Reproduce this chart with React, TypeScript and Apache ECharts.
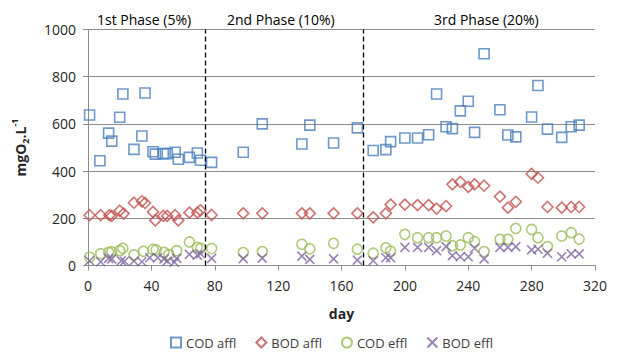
import React, { useEffect, useRef } from "react";
import * as echarts from "echarts";

const codAffl: number[][] = [[1,638],[7.5,444],[13,561],[15,527],[20,628],[22,727],[29,492],[34,549],[36,731],[41,482],[42.5,472],[47.5,474],[50,474],[55,480],[57,450],[64,458],[69,477],[71,446],[78,437],[98,480],[110,600],[135,515],[140,595],[155,519],[170,583],[180,487],[188,491],[191,525],[200,540],[208,540],[215,554],[220,727],[226,588],[230,580],[235,655],[240,696],[244,564],[250,897],[260,660],[265,553],[270,545],[280,629],[284,763],[290,578],[299,543],[305,588],[310,595]];
const bodAffl: number[][] = [[1,213],[8,213],[13.5,213],[15,210],[20,232],[22.5,220],[29,266],[34,272],[36,265],[41,227],[42.5,191],[47.5,210],[50,210],[55,213],[57,191],[64,224],[69,224],[71,234],[78,214],[98,221],[110,221],[135,221],[140,221],[155,221],[170,221],[180,204],[188,221],[191,258],[200,258],[208,256],[215,256],[220,241],[226,252],[230,344],[235,354],[240,333],[244,344],[250,338],[260,292],[265,245],[270,270],[280,388],[284,372],[290,248],[299,245],[305,248],[310,248]];
const codEffl: number[][] = [[1,35],[8,50],[13,56],[15,58],[20,63],[22,73],[29,45],[35,60],[41,68],[43,66],[48,56],[51,46],[56,63],[64,100],[69,77],[71,73],[78,72],[98,55],[110,59],[135,90],[140,71],[155,94],[170,69],[180,52],[188,75],[191,61],[200,132],[208,118],[215,118],[220,118],[226,125],[230,84],[235,87],[240,118],[244,101],[250,59],[260,111],[265,111],[270,157],[280,153],[284,118],[290,80],[299,125],[305,139],[310,112]];
const bodEffl: number[][] = [[1,20],[8,16],[13,30],[15,28],[21,20],[23,18],[29,19],[34,16],[39,33],[44,33],[48,28],[50,19],[54.5,14],[56,30],[64,47],[69,44],[71,50],[78,30],[98,29],[110,31],[135,40],[140,26],[155,28],[170,23],[180,20],[188,33],[191,33],[200,77],[208,77],[215,77],[220,63],[226,80],[230,42],[235,37],[240,37],[244,73],[250,28],[260,77],[265,77],[270,80],[280,66],[284,69],[290,52],[299,37],[305,49],[310,49]];
const phaseBoundaries: number[] = [74, 174];
const phaseLabels: string[] = ["1st Phase (5%)", "2nd Phase (10%)", "3rd Phase (20%)"];
const seriesNames: string[] = ["COD affl", "BOD affl", "COD effl", "BOD effl"];

const FONT = "'Open Sans', sans-serif";
const TEXT = "#262626";
const GRID = "#8c8c8c";

export default function App() {
  const ref = useRef<HTMLDivElement>(null);
  useEffect(() => {
    document.body.style.margin = "0";
    const chart = echarts.init(ref.current!, undefined, { renderer: "svg" });
    const mk = (name: string, data: number[][], symbol: string, size: number, color: string, extra: any = {}) => ({
      name,
      type: "scatter",
      data,
      symbol,
      symbolSize: size,
      itemStyle: { color: "rgba(0,0,0,0)", borderColor: color, borderWidth: 1.6 },
      emphasis: { disabled: true },
      ...extra,
    });
    chart.setOption({
      animation: false,
      textStyle: { fontFamily: FONT },
      grid: { left: 88, right: 23, top: 29.5, bottom: 86.5 },
      xAxis: {
        type: "value",
        min: 0,
        max: 320,
        interval: 40,
        name: "day",
        nameLocation: "middle",
        nameGap: 41,
        nameTextStyle: { fontFamily: FONT, fontSize: 14, fontWeight: "bold", color: TEXT },
        axisLine: { show: true, lineStyle: { color: GRID, width: 1 } },
        axisTick: { show: true, length: 5, lineStyle: { color: GRID } },
        axisLabel: { fontFamily: FONT, fontSize: 14, color: TEXT, margin: 13, formatter: (v: number) => String(v) },
        splitLine: { show: false },
      },
      yAxis: {
        type: "value",
        min: 0,
        max: 1000,
        interval: 200,
        name: "{m|mgO}{s|2}{m|.L}{p|-1}",
        nameLocation: "middle",
        nameGap: 58,
        nameTextStyle: {
          fontFamily: FONT,
          fontWeight: "bold",
          color: TEXT,
          rich: {
            m: { fontFamily: FONT, fontSize: 14, fontWeight: "bold", color: TEXT, lineHeight: 20, verticalAlign: "middle" },
            s: { fontFamily: FONT, fontSize: 9, fontWeight: "bold", color: TEXT, lineHeight: 20, verticalAlign: "bottom" },
            p: { fontFamily: FONT, fontSize: 9, fontWeight: "bold", color: TEXT, lineHeight: 20, verticalAlign: "top" },
          },
        },
        axisLine: { show: true, lineStyle: { color: GRID, width: 1 } },
        axisTick: { show: true, length: 5, lineStyle: { color: GRID } },
        axisLabel: { fontFamily: FONT, fontSize: 14, color: TEXT, margin: 12, formatter: (v: number) => String(v) },
        splitLine: { show: true, lineStyle: { color: GRID, width: 1 } },
      },
      legend: {
        top: 335,
        left: 170,
        padding: 0,
        itemWidth: 10,
        itemHeight: 10,
        itemGap: 19,
        textStyle: { fontFamily: FONT, fontSize: 13, lineHeight: 15, color: "#404040" },
        data: seriesNames,
      },
      graphic: [
        { type: "text", left: 97, top: 12, style: { text: phaseLabels[0], font: `14px ${FONT}`, fill: "#000" } },
        { type: "text", left: 227, top: 12, style: { text: phaseLabels[1], font: `14px ${FONT}`, fill: "#000" } },
        { type: "text", left: 434, top: 12, style: { text: phaseLabels[2], font: `14px ${FONT}`, fill: "#000" } },
      ],
      series: [
        mk(seriesNames[0], codAffl, "rect", 10, "#4a7ebb", {
          z: 3,
          markLine: {
            silent: true,
            symbol: "none",
            label: { show: false },
            lineStyle: { color: "#000", type: [5, 3], width: 1.3 },
            data: phaseBoundaries.map((x) => ({ xAxis: x })),
          },
        }),
        mk(seriesNames[1], bodAffl, "diamond", 11, "#c0504d"),
        mk(seriesNames[2], codEffl, "circle", 10, "#9bbb59"),
        mk(seriesNames[3], bodEffl, "path://M0,0L10,10M10,0L0,10", 9, "#8064a2"),
      ],
    });
    return () => chart.dispose();
  }, []);
  return <div ref={ref} style={{ width: 618, height: 352 }} />;
}
